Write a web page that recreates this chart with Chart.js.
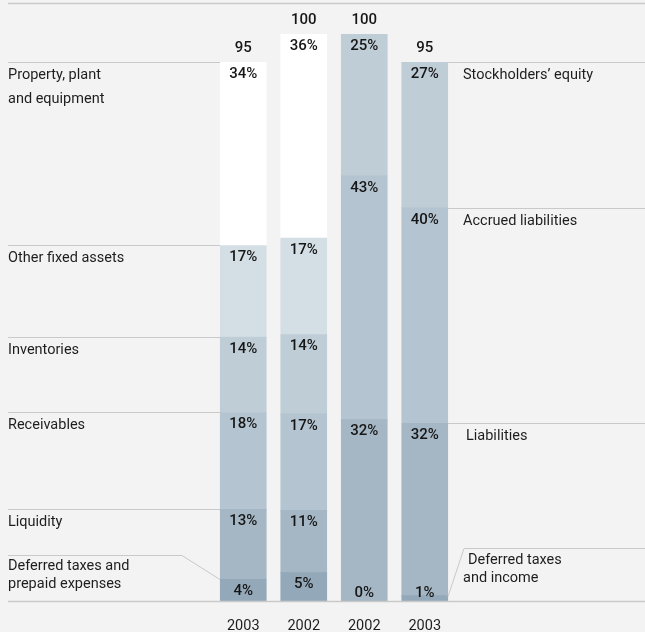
<!DOCTYPE html>
<html>
<head>
<meta charset="utf-8">
<script src="https://cdn.jsdelivr.net/npm/chart.js@4/dist/chart.umd.min.js"></script>
<style>
  html, body { margin: 0; padding: 0; background: #f3f3f3; }
  #wrap { width: 645px; height: 632px; }
</style>
</head>
<body>
<div id="wrap"><canvas id="c" width="645" height="632"></canvas></div>
<script>
// ---- data (bottom-to-top stacking order) ----
const years = ['2003', '2002', '2002', '2003'];
const totals = [95, 100, 100, 95];

const assetNames = [
  ['Deferred taxes and', 'prepaid expenses'],
  ['Liquidity'],
  ['Receivables'],
  ['Inventories'],
  ['Other fixed assets'],
  ['Property, plant', 'and equipment']
];
const assets2003 = [4, 13, 18, 14, 17, 34];
const assets2002 = [5, 11, 17, 14, 17, 36];

const liabNames = [
  ['Deferred taxes', 'and income'],
  ['Liabilities'],
  ['Accrued liabilities'],
  ['Stockholders\u2019 equity']
];
const liab2002 = [0, 32, 43, 25];
const liab2003 = [1, 32, 40, 27];

// ---- styles ----
const assetColors = ['#93a8b8', '#a5b7c4', '#b4c4d0', '#bfcdd7', '#d4dfe5', '#ffffff'];
const liabColors = ['#93a8b8', '#a5b7c4', '#b4c4d0', '#bfcdd7'];
const FONT = 'Roboto, "Liberation Sans", sans-serif';
const LINE = '#c9c9c9';
const TEXT = '#1e1e1e';

const datasets = [];
assetNames.forEach((n, i) => {
  datasets.push({
    label: n.join(' '), kind: 'asset', idx: i,
    pct: [assets2003[i], assets2002[i], null, null],
    data: [totals[0] * assets2003[i] / 100, totals[1] * assets2002[i] / 100, null, null],
    backgroundColor: assetColors[i], stack: 's'
  });
});
liabNames.forEach((n, i) => {
  datasets.push({
    label: n.join(' '), kind: 'liab', idx: i,
    pct: [null, null, liab2002[i], liab2003[i]],
    data: [null, null, totals[2] * liab2002[i] / 100, totals[3] * liab2003[i] / 100],
    backgroundColor: liabColors[i], stack: 's'
  });
});

const overlay = {
  id: 'overlay',
  beforeDraw(chart) {
    const ctx = chart.ctx;
    ctx.save();
    ctx.fillStyle = '#f3f3f3';
    ctx.fillRect(0, 0, chart.width, chart.height);
    ctx.restore();
  },
  afterDatasetsDraw(chart) {
    const ctx = chart.ctx;
    const ys = chart.scales.y;
    const base = ys.getPixelForValue(0);
    const W = chart.width;
    ctx.save();
    // frame lines
    ctx.strokeStyle = LINE;
    ctx.lineWidth = 1.5;
    ctx.beginPath();
    ctx.moveTo(8, 3.5); ctx.lineTo(W, 3.5);
    ctx.moveTo(8, base + 0.5); ctx.lineTo(W, base + 0.5);
    ctx.stroke();

    ctx.lineWidth = 1;
    ctx.font = '14.5px ' + FONT;
    ctx.fillStyle = TEXT;
    ctx.textBaseline = 'middle';
    ctx.textAlign = 'left';

    // left side: category labels for the first bar
    chart.data.datasets.forEach((ds, di) => {
      if (ds.kind !== 'asset') return;
      const bar = chart.getDatasetMeta(di).data[0];
      const top = Math.round(bar.y) + 0.5;
      const left = Math.round(bar.x - bar.width / 2);
      const names = assetNames[ds.idx];
      ctx.beginPath();
      if (ds.idx === 0) {
        const ly = top - 24;
        ctx.moveTo(8, ly); ctx.lineTo(182, ly); ctx.lineTo(left, top);
        ctx.stroke();
        ctx.fillText(names[0], 8, ly + 11);
        ctx.fillText(names[1], 8, ly + 29);
      } else {
        ctx.moveTo(8, top); ctx.lineTo(left, top);
        ctx.stroke();
        names.forEach((t, k) => ctx.fillText(t, 8, top + 13 + k * 24));
      }
    });

    // right side: category labels for the last bar
    chart.data.datasets.forEach((ds, di) => {
      if (ds.kind !== 'liab') return;
      const bar = chart.getDatasetMeta(di).data[3];
      const top = Math.round(bar.y) + 0.5;
      const right = Math.round(bar.x + bar.width / 2);
      const names = liabNames[ds.idx];
      ctx.beginPath();
      if (ds.idx === 0) {
        const ly = base - 52.5;
        ctx.moveTo(right, Math.min(top, base - 1)); ctx.lineTo(right + 16, ly); ctx.lineTo(W, ly);
        ctx.stroke();
        ctx.fillText(names[0], right + 20, ly + 12);
        ctx.fillText(names[1], right + 15, ly + 30);
      } else {
        ctx.moveTo(right, top); ctx.lineTo(W, top);
        ctx.stroke();
        const dx = ds.idx === 1 ? 18 : 15;
        names.forEach((t, k) => ctx.fillText(t, right + dx, top + 13 + k * 24));
      }
    });

    // percentage labels inside bars
    ctx.font = '500 15px ' + FONT;
    ctx.textAlign = 'center';
    ctx.fillStyle = '#161616';
    chart.data.datasets.forEach((ds, di) => {
      const meta = chart.getDatasetMeta(di);
      ds.pct.forEach((p, j) => {
        if (p === null) return;
        const bar = meta.data[j];
        const y = Math.min(bar.y + 12, base - 8);
        ctx.fillText(p + '%', bar.x, y);
      });
    });

    // totals above bars
    for (let j = 0; j < 4; j++) {
      const y = ys.getPixelForValue(totals[j]);
      const x = chart.getDatasetMeta(0).data[j].x;
      ctx.fillText(String(totals[j]), x, y - 14);
    }
    ctx.restore();
  }
};

new Chart(document.getElementById('c'), {
  type: 'bar',
  data: { labels: years, datasets },
  options: {
    responsive: false,
    devicePixelRatio: 1,
    animation: false,
    layout: { padding: { left: 213, right: 190, top: 34, bottom: 0 } },
    plugins: { legend: { display: false }, tooltip: { enabled: false } },
    datasets: { bar: { barThickness: 46, borderWidth: 0, borderSkipped: false } },
    scales: {
      x: {
        stacked: true,
        grid: { display: false },
        border: { display: false },
        ticks: { color: TEXT, font: { family: FONT, size: 14.5 }, padding: 9, autoSkip: false, maxRotation: 0 },
        afterFit(s) { s.height = 31; }
      },
      y: {
        stacked: true, min: 0, max: 100, display: false
      }
    }
  },
  plugins: [overlay]
});
</script>
</body>
</html>
